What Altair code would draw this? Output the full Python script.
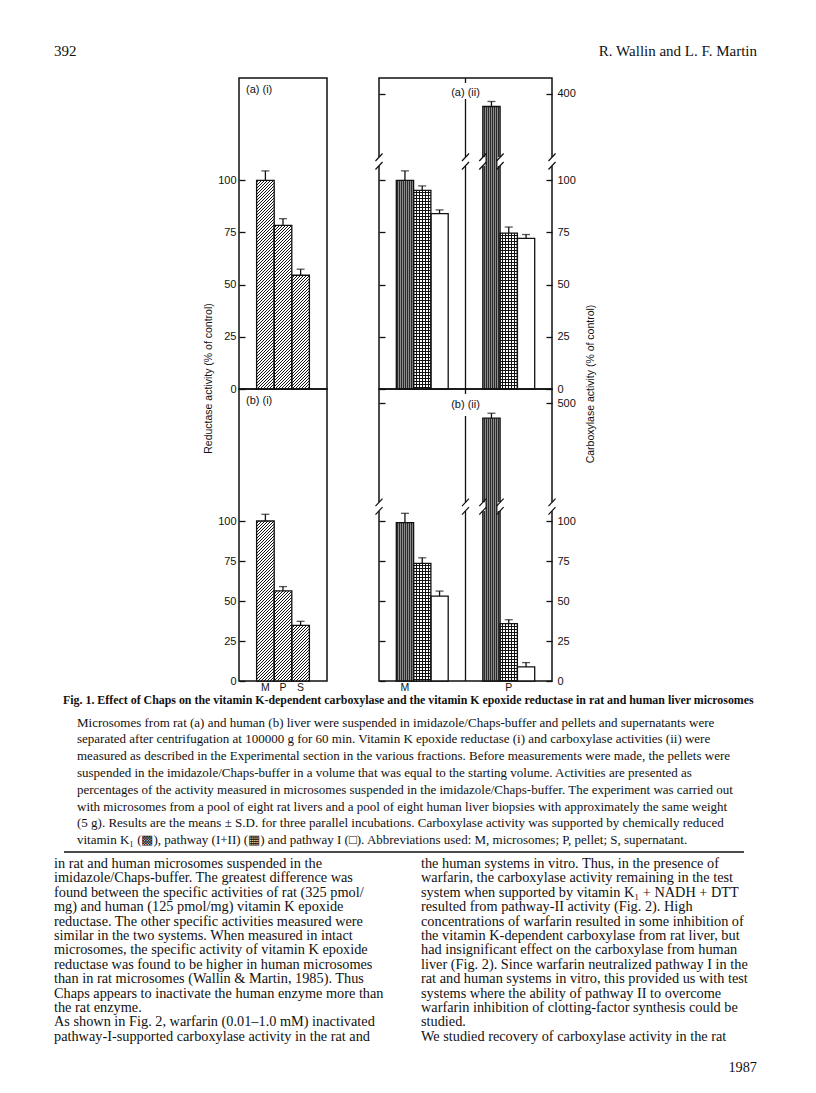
import math
import altair as alt
import pandas as pd

# ---------------- data ----------------
fractions = ["M", "P", "S"]
reductase_rat = [100.0, 78.4, 54.5]
reductase_rat_sd = [4.5, 3.2, 2.9]
reductase_human = [100.0, 56.3, 34.8]
reductase_human_sd = [4.2, 2.7, 2.5]

carbox_fractions = ["M", "P"]
supports = ["K1", "I+II", "I"]
carbox_rat_M = [100.0, 95.2, 84.0]
carbox_rat_M_sd = [4.5, 2.1, 1.8]
carbox_rat_P = [394.0, 74.7, 72.2]
carbox_rat_P_sd = [2.4, 2.9, 1.8]
carbox_human_M = [99.0, 73.5, 53.1]
carbox_human_M_sd = [5.8, 3.5, 3.1]
carbox_human_P = [490.5, 35.8, 8.8]
carbox_human_P_sd = [3.1, 2.5, 2.7]

lower_ticks = [0, 25, 50, 75, 100]
rat_upper_tick = 400
human_upper_tick = 500

header_left = "392"
header_right = "R. Wallin and L. F. Martin"
footer_right = "1987"
fig_title = ("Fig. 1. Effect of Chaps on the vitamin K-dependent carboxylase and the "
             "vitamin K epoxide reductase in rat and human liver microsomes")
caption_lines = [
    "Microsomes from rat (a) and human (b) liver were suspended in imidazole/Chaps-buffer and pellets and supernatants were",
    "separated after centrifugation at 100000 g for 60 min. Vitamin K epoxide reductase (i) and carboxylase activities (ii) were",
    "measured as described in the Experimental section in the various fractions. Before measurements were made, the pellets were",
    "suspended in the imidazole/Chaps-buffer in a volume that was equal to the starting volume. Activities are presented as",
    "percentages of the activity measured in microsomes suspended in the imidazole/Chaps-buffer. The experiment was carried out",
    "with microsomes from a pool of eight rat livers and a pool of eight human liver biopsies with approximately the same weight",
    "(5 g). Results are the means \u00b1 S.D. for three parallel incubations. Carboxylase activity was supported by chemically reduced",
    "vitamin K\u2081 (\u25a9), pathway (I+II) (\u25a6) and pathway I (\u25a1). Abbreviations used: M, microsomes; P, pellet; S, supernatant.",
]
body_left = [
    "in rat and human microsomes suspended in the",
    "imidazole/Chaps-buffer. The greatest difference was",
    "found between the specific activities of rat (325 pmol/",
    "mg) and human (125 pmol/mg) vitamin K epoxide",
    "reductase. The other specific activities measured were",
    "similar in the two systems. When measured in intact",
    "microsomes, the specific activity of vitamin K epoxide",
    "reductase was found to be higher in human microsomes",
    "than in rat microsomes (Wallin & Martin, 1985). Thus",
    "Chaps appears to inactivate the human enzyme more than",
    "the rat enzyme.",
    "\u2003As shown in Fig. 2, warfarin (0.01\u20131.0 mM) inactivated",
    "pathway-I-supported carboxylase activity in the rat and",
]
body_right = [
    "the human systems in vitro. Thus, in the presence of",
    "warfarin, the carboxylase activity remaining in the test",
    "system when supported by vitamin K\u2081 + NADH + DTT",
    "resulted from pathway-II activity (Fig. 2). High",
    "concentrations of warfarin resulted in some inhibition of",
    "the vitamin K-dependent carboxylase from rat liver, but",
    "had insignificant effect on the carboxylase from human",
    "liver (Fig. 2). Since warfarin neutralized pathway I in the",
    "rat and human systems in vitro, this provided us with test",
    "systems where the ability of pathway II to overcome",
    "warfarin inhibition of clotting-factor synthesis could be",
    "studied.",
    "\u2003We studied recovery of carboxylase activity in the rat",
]

# ---------------- layout / style ----------------
SANS = "Liberation Sans"
SERIF = "Liberation Serif"
INK = "#111111"
W_I, W_II = 88, 173
H_A, H_B = 311, 292
DMAX_A, DMAX_B = 149.0, 182.5
BREAK_SHOWN = 109.0
OFFSET_A = 258.65
OFFSET_B = 326.25
OX, OY = 238, 77  # page position of panel (a)(i)

slots_i = ["pad_l"] + fractions + ["pad_r"]
slots_ii = (["pad_l"] + [f"M|{s}" for s in supports] + ["gap_l", "gap_r"]
            + [f"P|{s}" for s in supports] + ["pad_r"])
PATTERN_OF = {"K1": "k1", "I+II": "grid", "I": "open"}

SLASH = "M-0.44,-0.06L0.44,-1M-0.44,1L0.44,0.06"
GAP = "M-0.28,-0.55H0.28V0.55H-0.28Z"
CLEAR = "rgba(255,255,255,0)"
R2 = math.sqrt(2)


def stripe_stops(n_periods, frac, fg, bg):
    p = 1.0 / max(n_periods, 1e-6)
    stops = []
    k = 0
    while k * p < 1.0 - 1e-9:
        o = k * p
        a = min(o + (1.0 - frac) * p, 1.0)
        b = min(o + p, 1.0)
        stops.append({"offset": round(o, 6), "color": bg})
        stops.append({"offset": round(a, 6), "color": bg})
        if a < 1.0:
            stops.append({"offset": round(a, 6), "color": fg})
            stops.append({"offset": round(b, 6), "color": fg})
        k += 1
    return stops


def diag(w, h, period, frac, fg, bg, rising=True):
    s = (w + h) / (w * w + h * h)
    d = (w + h) / R2
    g = {"gradient": "linear", "stops": stripe_stops(d / period, frac, fg, bg)}
    if rising:
        g.update({"x1": 0, "y1": 0, "x2": s * w, "y2": s * h})
    else:
        g.update({"x1": 0, "y1": 1, "x2": s * w, "y2": 1 - s * h})
    return g


def straight(length, period, frac, fg, bg, vertical_lines=True):
    g = {"gradient": "linear", "stops": stripe_stops(length / period, frac, fg, bg)}
    if vertical_lines:
        g.update({"x1": 0, "y1": 0, "x2": 1, "y2": 0})
    else:
        g.update({"x1": 0, "y1": 0, "x2": 0, "y2": 1})
    return g


def pattern_fills(kind, w, h):
    if kind == "hatch":
        return [diag(w, h, 3 / R2, 0.333, INK, "white", True)]
    if kind == "k1":
        return [straight(w, 2.0, 0.5, "#2a2a2a", "#8c8c8c", True)]
    if kind == "grid":
        return [straight(w, 3.0, 0.34, INK, "white", True),
                straight(h, 3.0, 0.34, INK, CLEAR, False)]
    return ["white"]


def text_layer(text, x, y, size, font=SANS, align="left", baseline="middle",
               weight="normal", angle=0, line_height=None):
    kw = dict(align=align, baseline=baseline, font=font, fontSize=size,
              fontWeight=weight, color=INK, angle=angle, lineBreak="\n")
    if line_height:
        kw["lineHeight"] = line_height
    return alt.Chart(pd.DataFrame({"t": [text]})).mark_text(**kw).encode(
        text="t:N", x=alt.value(x), y=alt.value(y))


def y_axis(orient, values, labels=True, label_expr=None, padding=9):
    kw = dict(values=values, orient=orient, tickSize={"expr": "-6"}, tickWidth=1.3,
              tickColor=INK, domain=False, grid=False, labels=labels,
              labelPadding=padding, labelFont=SANS, labelFontSize=11,
              labelColor=INK, format="d", labelFlush=False, labelOverlap=False)
    if label_expr:
        kw["labelExpr"] = label_expr
    return alt.Axis(**kw)


def x_axis(label_expr):
    return alt.Axis(orient="bottom", ticks=False, domain=False, labelPadding=1,
                    labelAngle=0, labelFont=SANS, labelFontSize=10.5, labelColor=INK,
                    labelExpr=label_expr)


def bar_layers(df, X, Y, band, H, dmax):
    out = []
    for rec in df.to_dict("records"):
        h = rec["shown"] * H / dmax
        for fill in pattern_fills(rec["pattern"], band, h):
            out.append(alt.Chart(pd.DataFrame([rec])).mark_bar(fill=fill, strokeWidth=0)
                       .encode(x=X, y=Y))
    out.append(alt.Chart(df).mark_bar(fillOpacity=0, stroke=INK, strokeWidth=1.3)
               .encode(x=X, y=Y))
    return out


def panel_i(vals, sds, H, dmax, label, bottom, page=False):
    df = pd.DataFrame({"slot": fractions, "value": vals, "sd": sds})
    df["shown"] = df["value"]
    df["top"] = df["value"] + df["sd"]
    df["pattern"] = "hatch"
    xaxis = (x_axis("indexof(datum.value, 'pad') == 0 ? '' : datum.value")
             if bottom else None)
    xscale = alt.Scale(domain=slots_i, paddingInner=0, paddingOuter=0)
    X = alt.X("slot:N", scale=xscale, axis=xaxis, title=None)
    yscale = alt.Scale(domain=[0, dmax], nice=False, zero=True)
    yax = y_axis("left", lower_ticks)
    Y = alt.Y("shown:Q", scale=yscale, axis=yax, title=None)
    Ytop = alt.Y("top:Q", scale=yscale, axis=yax, title=None)
    layers = bar_layers(df, X, Y, W_I / len(slots_i), H, dmax)
    layers.append(alt.Chart(df).mark_rule(color=INK, strokeWidth=1.3)
                  .encode(x=X, y=Y, y2="top:Q"))
    layers.append(alt.Chart(df).mark_tick(color=INK, thickness=1.3, size=8, orient="horizontal")
                  .encode(x=X, y=Ytop))
    layers.append(text_layer(label, 7, 12, 11))
    if page:
        layers += page_layers()
    return alt.layer(*layers).properties(width=W_I, height=H)


def panel_ii(M, Msd, P, Psd, offset, upper_tick, H, dmax, label, bottom, mid_top, title=False):
    recs = []
    for frac, vals, sds in (("M", M, Msd), ("P", P, Psd)):
        for sup, v, sd in zip(supports, vals, sds):
            shown = v - offset if v - offset > BREAK_SHOWN else v
            recs.append({"slot": f"{frac}|{sup}", "value": v, "sd": sd,
                         "shown": shown, "top": shown + sd, "pattern": PATTERN_OF[sup]})
    df = pd.DataFrame(recs)
    ticks = lower_ticks + [upper_tick - offset]
    lab_expr = f"datum.value > {BREAK_SHOWN} ? '{upper_tick}' : datum.label"
    xaxis = (x_axis("datum.value == 'M|K1' ? 'M' : datum.value == 'P|I+II' ? 'P' : ''")
             if bottom else None)
    xscale = alt.Scale(domain=slots_ii, paddingInner=0, paddingOuter=0)

    def Xf(bp=0.5):
        return alt.X("slot:N", scale=xscale, axis=xaxis, title=None, bandPosition=bp)

    X = Xf()
    yscale = alt.Scale(domain=[0, dmax], nice=False, zero=True)
    yleft = y_axis("left", ticks, labels=False)
    Y = alt.Y("shown:Q", scale=yscale, axis=yleft, title=None)
    Yb = alt.Y("b:Q", scale=yscale, axis=yleft, title=None)

    a = bar_layers(df, X, Y, W_II / len(slots_ii), H, dmax)
    a.append(alt.Chart(df).mark_rule(color=INK, strokeWidth=1.3).encode(x=X, y=Y, y2="top:Q"))
    mid = pd.DataFrame({"slot": ["gap_r"]})
    a.append(alt.Chart(mid).mark_rule(color=INK, strokeWidth=1.3)
             .encode(x=Xf(0), y=alt.value(mid_top), y2=alt.value(H)))
    a.append(alt.Chart(mid).mark_rule(color=INK, strokeWidth=1.3)
             .encode(x=Xf(0), y=alt.value(0), y2=alt.value(5)))
    brk_lines = pd.DataFrame({"slot": ["pad_l", "gap_r"], "b": BREAK_SHOWN})
    brk_bar = pd.DataFrame({"slot": ["P|K1", "P|I+II"], "b": BREAK_SHOWN})
    brk_right = pd.DataFrame({"slot": ["pad_r"], "b": [BREAK_SHOWN]})
    for d, bp in ((brk_lines, 0), (brk_bar, 0), (brk_right, 1)):
        a.append(alt.Chart(d).mark_point(shape=GAP, size=256, filled=True, color="white",
                                         opacity=1, strokeWidth=0)
                 .encode(x=Xf(bp), y=Yb))
        a.append(alt.Chart(d).mark_point(shape=SLASH, size=256, filled=False, color=INK,
                                         opacity=1, strokeWidth=1.2)
                 .encode(x=Xf(bp), y=Yb))
    a.append(text_layer(label, W_II / 2, 16 if bottom else 15, 11, align="center"))
    if title:
        a.append(text_layer("Carboxylase activity (% of control)", 590 - 378, 383 - OY, 10.5,
                            align="center", angle=270))
    A = alt.layer(*a)
    yright = y_axis("right", ticks, labels=True, label_expr=lab_expr, padding=11)
    B = alt.Chart(df).mark_tick(color=INK, thickness=1.3, size=8, orient="horizontal").encode(
        x=X, y=alt.Y("top:Q", scale=alt.Scale(domain=[0, dmax], nice=False, zero=True),
                     axis=yright, title=None))
    return alt.layer(A, B).resolve_scale(y="independent").properties(width=W_II, height=H)


def page_layers():
    L = []
    L.append(text_layer("Reductase activity (% of control)", 207.5 - OX, 377.5 - OY, 10.5,
                        align="center", angle=270))
    L.append(text_layer(header_left, 53 - OX, 43 - OY, 15, font=SERIF, baseline="top"))
    L.append(text_layer(header_right, 756 - OX, 43 - OY, 15, font=SERIF, baseline="top",
                        align="right"))
    L.append(text_layer(fig_title, 62 - OX, 703 - OY, 11.9, font=SERIF, baseline="alphabetic",
                        weight="bold"))
    L.append(text_layer("\n".join(caption_lines), 76 - OX, 725.5 - OY, 13, font=SERIF,
                        baseline="alphabetic", line_height=16.8))
    L.append(alt.Chart(pd.DataFrame({"k": [0]})).mark_rule(color=INK, strokeWidth=1.5).encode(
        x=alt.value(63 - OX), x2=alt.value(743 - OX), y=alt.value(851 - OY)))
    L.append(text_layer("\n".join(body_left), 53 - OX, 867 - OY, 14.3, font=SERIF,
                        baseline="alphabetic", line_height=14.4))
    L.append(text_layer("\n".join(body_right), 420 - OX, 867 - OY, 14.3, font=SERIF,
                        baseline="alphabetic", line_height=14.4))
    L.append(text_layer(footer_right, 756 - OX, 1071 - OY, 14.3, font=SERIF,
                        baseline="alphabetic", align="right"))
    return L


a_i = panel_i(reductase_rat, reductase_rat_sd, H_A, DMAX_A, "(a) (i)", bottom=False, page=True)
b_i = panel_i(reductase_human, reductase_human_sd, H_B, DMAX_B, "(b) (i)", bottom=True)
a_ii = panel_ii(carbox_rat_M, carbox_rat_M_sd, carbox_rat_P, carbox_rat_P_sd, OFFSET_A,
                rat_upper_tick, H_A, DMAX_A, "(a) (ii)", bottom=False, mid_top=21, title=True)
b_ii = panel_ii(carbox_human_M, carbox_human_M_sd, carbox_human_P, carbox_human_P_sd, OFFSET_B,
                human_upper_tick, H_B, DMAX_B, "(b) (ii)", bottom=True, mid_top=27)

chart = (
    alt.concat(a_i, a_ii, b_i, b_ii, columns=2, spacing={"row": 0, "column": 52},
               bounds="flush", align="each")
    .properties(padding={"left": 45, "top": 35, "right": 5, "bottom": 5})
    .configure(font=SANS)
    .configure_view(stroke=INK, strokeWidth=1.5)
)

chart.save("out.html", embed_options={"renderer": "svg", "actions": False})
